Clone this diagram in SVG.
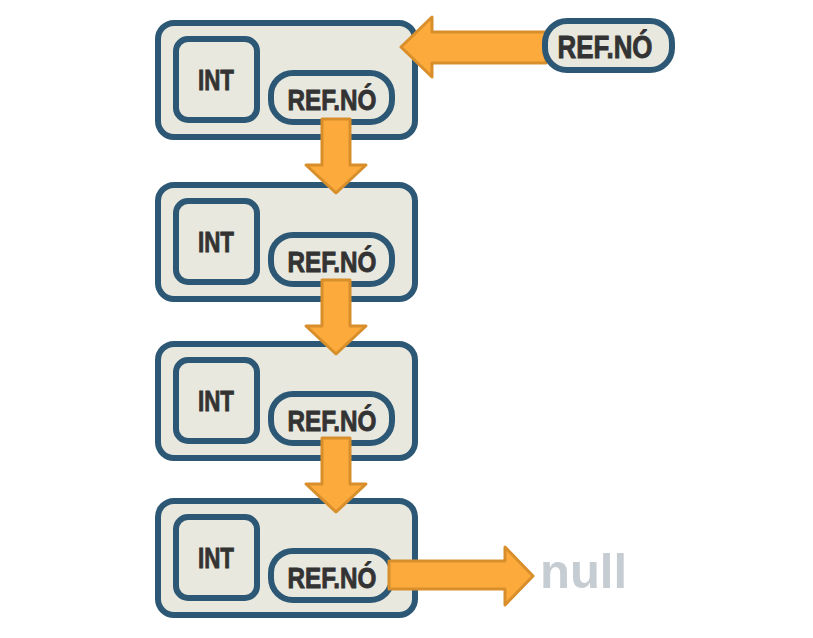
<svg xmlns="http://www.w3.org/2000/svg" width="813" height="638" viewBox="0 0 813 638">
<style>
.box{fill:#e9e8de;stroke:#2d5875;stroke-width:6}
.arr{fill:#fcaa3b;stroke:#d88f2b;stroke-width:3;stroke-linejoin:round}
.t{font-family:"Liberation Sans",Arial,sans-serif;font-weight:bold;font-size:30px;fill:#333333;stroke:#333333;stroke-width:0.9;text-anchor:middle}
.null{font-family:"Liberation Sans",Arial,sans-serif;font-weight:bold;font-size:49px;fill:#c5ccd2}
</style>
<defs>
<g id="node">
<rect class="box" x="158" y="23" width="257" height="114" rx="16"/>
<rect class="box" x="176" y="39" width="81" height="81" rx="12"/>
<rect class="box" x="271" y="73" width="121" height="49" rx="22"/>
<text class="t" x="216" y="90" textLength="36" lengthAdjust="spacingAndGlyphs">INT</text>
<text class="t" x="332" y="110" textLength="89" lengthAdjust="spacingAndGlyphs">REF.NÓ</text>
</g>
</defs>
<g id="node1"><use href="#node"/></g>
<g id="node2"><use href="#node" transform="translate(0,162)"/></g>
<g id="node3"><use href="#node" transform="translate(0,321)"/></g>
<g id="node4"><use href="#node" transform="translate(0,478)"/></g>
<g id="connectors">
<path class="arr" d="M322,119 H350 V165 H366 L336,193 L306,165 H322 Z"/>
<path class="arr" d="M322,280 H350 V326 H366 L336,354 L306,326 H322 Z"/>
<path class="arr" d="M322,438 H350 V484 H366 L336,512 L306,484 H322 Z"/>
<path class="arr" d="M546,32 V63 H432 V77 L401,47 L432,17 V32 Z"/>
<path class="arr" d="M389,561 H505 V547 L533,576 L505,605 V589 H389 Z"/>
</g>
<g id="head">
<rect class="box" x="545" y="21" width="127" height="49" rx="22"/>
<text class="t" x="605" y="58" style="font-size:32px" textLength="95" lengthAdjust="spacingAndGlyphs">REF.NÓ</text>
</g>
<g id="null">
<text class="null" x="540" y="588">null</text>
</g>
</svg>
